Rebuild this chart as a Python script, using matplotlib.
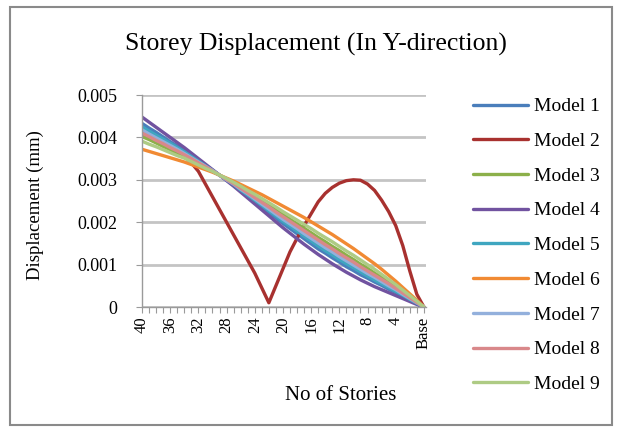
import matplotlib
matplotlib.use("Agg")
import matplotlib.pyplot as plt
from matplotlib.patches import Rectangle

# categories: storey 40 down to 1, then Base
stories = [str(s) for s in range(40, 0, -1)] + ["Base"]
shown_labels = ["40", "36", "32", "28", "24", "20", "16", "12", "8", "4", "Base"]

model_1 = [0.00433, 0.00422, 0.00412, 0.00401, 0.00390, 0.00380, 0.00369, 0.00358, 0.00346, 0.00334,
           0.00323, 0.00311, 0.00299, 0.00287, 0.00275, 0.00262, 0.00249, 0.00236, 0.00223, 0.00210,
           0.00197, 0.00185, 0.00173, 0.00161, 0.00149, 0.00137, 0.00127, 0.00116, 0.00106, 0.00095,
           0.00086, 0.00076, 0.00068, 0.00059, 0.00051, 0.00042, 0.00034, 0.00025, 0.00017, 0.00008, 0.0]
model_2 = [0.00410, 0.00400, 0.00390, 0.00380, 0.00375, 0.00370, 0.00355, 0.00340, 0.00320, 0.00290,
           0.00260, 0.00230, 0.00200, 0.00170, 0.00140, 0.00110, 0.00080, 0.00045, 0.00010, 0.00050,
           0.00090, 0.00130, 0.00162, 0.00192, 0.00220, 0.00248, 0.00268, 0.00282, 0.00292, 0.00298,
           0.00300, 0.00299, 0.00290, 0.00275, 0.00252, 0.00225, 0.00192, 0.00145, 0.00085, 0.00030, 0.0]
model_3 = [0.00402, 0.00395, 0.00387, 0.00379, 0.00371, 0.00363, 0.00356, 0.00347, 0.00338, 0.00329,
           0.00320, 0.00311, 0.00302, 0.00292, 0.00282, 0.00271, 0.00261, 0.00251, 0.00240, 0.00229,
           0.00218, 0.00207, 0.00196, 0.00186, 0.00175, 0.00164, 0.00154, 0.00143, 0.00133, 0.00122,
           0.00112, 0.00101, 0.00091, 0.00080, 0.00070, 0.00059, 0.00047, 0.00036, 0.00024, 0.00012, 0.0]
model_4 = [0.00448, 0.00436, 0.00424, 0.00412, 0.00400, 0.00388, 0.00376, 0.00363, 0.00350, 0.00337,
           0.00324, 0.00311, 0.00298, 0.00285, 0.00271, 0.00257, 0.00243, 0.00229, 0.00215, 0.00201,
           0.00187, 0.00174, 0.00161, 0.00148, 0.00136, 0.00124, 0.00113, 0.00102, 0.00092, 0.00082,
           0.00073, 0.00064, 0.00056, 0.00048, 0.00041, 0.00034, 0.00027, 0.00020, 0.00013, 0.00006, 0.0]
model_5 = [0.00425, 0.00415, 0.00405, 0.00396, 0.00386, 0.00376, 0.00366, 0.00355, 0.00344, 0.00333,
           0.00322, 0.00311, 0.00300, 0.00289, 0.00276, 0.00264, 0.00252, 0.00240, 0.00227, 0.00215,
           0.00202, 0.00191, 0.00179, 0.00167, 0.00156, 0.00144, 0.00133, 0.00123, 0.00112, 0.00102,
           0.00093, 0.00083, 0.00073, 0.00064, 0.00055, 0.00046, 0.00037, 0.00028, 0.00018, 0.00009, 0.0]
model_6 = [0.00372, 0.00367, 0.00362, 0.00357, 0.00352, 0.00347, 0.00342, 0.00336, 0.00330, 0.00324,
           0.00318, 0.00311, 0.00304, 0.00297, 0.00289, 0.00281, 0.00273, 0.00265, 0.00256, 0.00247,
           0.00238, 0.00229, 0.00220, 0.00211, 0.00201, 0.00191, 0.00181, 0.00171, 0.00160, 0.00149,
           0.00138, 0.00126, 0.00114, 0.00102, 0.00089, 0.00075, 0.00061, 0.00046, 0.00031, 0.00016, 0.0]
model_7 = [0.00418, 0.00408, 0.00399, 0.00390, 0.00381, 0.00372, 0.00362, 0.00352, 0.00342, 0.00332,
           0.00322, 0.00311, 0.00300, 0.00290, 0.00278, 0.00267, 0.00255, 0.00243, 0.00231, 0.00219,
           0.00207, 0.00196, 0.00185, 0.00173, 0.00162, 0.00151, 0.00140, 0.00130, 0.00119, 0.00109,
           0.00099, 0.00089, 0.00079, 0.00070, 0.00060, 0.00050, 0.00041, 0.00030, 0.00020, 0.00010, 0.0]
model_8 = [0.00410, 0.00402, 0.00393, 0.00385, 0.00376, 0.00368, 0.00359, 0.00350, 0.00340, 0.00331,
           0.00321, 0.00311, 0.00301, 0.00291, 0.00280, 0.00269, 0.00258, 0.00247, 0.00236, 0.00224,
           0.00213, 0.00202, 0.00191, 0.00180, 0.00169, 0.00158, 0.00147, 0.00137, 0.00126, 0.00116,
           0.00106, 0.00095, 0.00085, 0.00075, 0.00065, 0.00055, 0.00044, 0.00033, 0.00022, 0.00011, 0.0]
model_9 = [0.00391, 0.00384, 0.00378, 0.00371, 0.00364, 0.00357, 0.00351, 0.00343, 0.00335, 0.00327,
           0.00320, 0.00311, 0.00303, 0.00294, 0.00285, 0.00275, 0.00266, 0.00256, 0.00246, 0.00236,
           0.00225, 0.00215, 0.00205, 0.00195, 0.00185, 0.00174, 0.00164, 0.00154, 0.00143, 0.00132,
           0.00122, 0.00111, 0.00100, 0.00089, 0.00077, 0.00065, 0.00053, 0.00040, 0.00027, 0.00014, 0.0]

series = [model_1, model_2, model_3, model_4, model_5, model_6, model_7, model_8, model_9]
names = ["Model 1", "Model 2", "Model 3", "Model 4", "Model 5",
         "Model 6", "Model 7", "Model 8", "Model 9"]
colors = ["#4A7EBB", "#A8312F", "#8CB04A", "#7153A0", "#3FA6C0",
          "#F18A33", "#93B0DC", "#D9888A", "#AECB84"]

plt.rcParams["font.family"] = ["Liberation Serif", "DejaVu Serif"]

fig = plt.figure(figsize=(6.24, 4.32), dpi=100)
fig.add_artist(Rectangle((10 / 624, 7 / 432), 602 / 624, 418 / 432,
                         transform=fig.transFigure, fill=False,
                         edgecolor="#8a8a8a", linewidth=1.5))

ax = fig.add_axes([142 / 624, 125 / 432, 284 / 624, 212 / 432])
x = list(range(len(stories)))
for vals, name, c in zip(series, names, colors):
    ax.plot(x, vals, color=c, lw=2.4, label=name, solid_capstyle="round")

ax.set_xlim(0, 40.3)
ax.set_ylim(0, 0.005)
ax.set_yticks([0, 0.001, 0.002, 0.003, 0.004, 0.005])
ax.set_yticklabels(["0", "0.001", "0.002", "0.003", "0.004", "0.005"], fontsize=13)
ax.set_xticks(x)
ax.set_xticklabels([s if s in shown_labels else "" for s in stories],
                   rotation=90, fontsize=12)
ax.tick_params(axis="x", length=4, color="#9a9a9a", pad=3)
ax.tick_params(axis="y", length=4, color="#9a9a9a", pad=14)
ax.grid(axis="y", color="#c4c4c4", lw=2)
ax.set_axisbelow(True)
for s in ["top", "right"]:
    ax.spines[s].set_visible(False)
for s in ["left", "bottom"]:
    ax.spines[s].set_color("#9a9a9a")
    ax.spines[s].set_linewidth(1)

fig.text(316 / 624, 1 - 44 / 432, "Storey Displacement (In Y-direction)",
         ha="center", va="center", fontsize=18.5)
fig.text(35 / 624, 1 - 205 / 432, "Displacement (mm)", rotation=90,
         ha="center", va="center", fontsize=13.5)
fig.text(341 / 624, 1 - 395 / 432, "No of Stories",
         ha="center", va="center", fontsize=15)

fig.legend(loc="upper left", bbox_to_anchor=(463 / 624, 1 - 88 / 432),
           frameon=False, fontsize=14, handlelength=2.85, handletextpad=0.3,
           labelspacing=0.88, borderpad=0)

fig.savefig("out.png", dpi=100)
